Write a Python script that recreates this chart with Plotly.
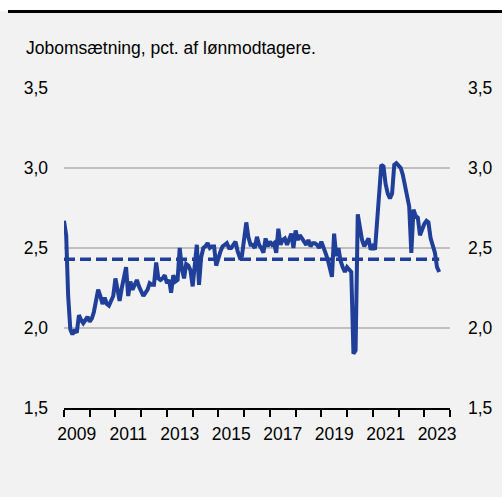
import pandas as pd
import plotly.graph_objects as go

# monthly job turnover, pct. of employees, Jan 2009 - Aug 2023
start_month = '2009-01-01'
jobomsaetning = [
    2.67, 2.58, 2.20, 1.99, 1.96, 1.99, 1.97, 2.08, 2.05, 2.03, 2.05, 2.07,
    2.04, 2.06, 2.10, 2.17, 2.24, 2.20, 2.15, 2.19, 2.15, 2.14, 2.18, 2.20,
    2.31, 2.22, 2.17, 2.25, 2.33, 2.38, 2.20, 2.29, 2.24, 2.27, 2.30, 2.26,
    2.23, 2.20, 2.22, 2.24, 2.28, 2.27, 2.27, 2.41, 2.31, 2.30, 2.31, 2.33,
    2.28, 2.30, 2.22, 2.33, 2.29, 2.30, 2.50, 2.37, 2.31, 2.40, 2.39, 2.36,
    2.26, 2.43, 2.52, 2.27, 2.44, 2.50, 2.51, 2.53, 2.50, 2.51, 2.51, 2.39,
    2.44, 2.48, 2.51, 2.52, 2.53, 2.50, 2.50, 2.52, 2.54, 2.48, 2.44, 2.45,
    2.54, 2.66, 2.57, 2.52, 2.52, 2.50, 2.57, 2.52, 2.50, 2.47, 2.56, 2.51,
    2.54, 2.52, 2.53, 2.47, 2.62, 2.52, 2.55, 2.56, 2.52, 2.56, 2.59, 2.50,
    2.61, 2.55, 2.58, 2.56, 2.54, 2.52, 2.55, 2.51, 2.53, 2.53, 2.52, 2.50,
    2.54, 2.51, 2.47, 2.43, 2.37, 2.32, 2.59, 2.45, 2.50, 2.42, 2.38, 2.35,
    2.38, 2.36, 2.35, 1.84, 1.86, 2.71, 2.62, 2.55, 2.51, 2.53, 2.56, 2.49,
    2.51, 2.49, 2.67, 2.80, 3.02, 3.01, 2.90, 2.84, 2.81, 2.84, 3.02, 3.03,
    3.01, 3.00, 2.96, 2.89, 2.83, 2.76, 2.47, 2.74, 2.70, 2.69, 2.58, 2.62,
    2.65, 2.67, 2.66, 2.56, 2.52, 2.47, 2.38, 2.35,
]
gennemsnit = 2.43
y_ticks = [1.5, 2.0, 2.5, 3.0, 3.5]
label_years = [2009, 2011, 2013, 2015, 2017, 2019, 2021, 2023]

dates = pd.date_range(start_month, periods=len(jobomsaetning), freq='MS')

blue = '#1f3f99'
font = dict(family='Liberation Sans, Arial', size=17.5, color='#000000')

fig = go.Figure()
fig.add_trace(go.Scatter(x=dates, y=[gennemsnit] * len(dates), mode='lines',
                         line=dict(color=blue, width=3.5, dash='11px,5px'),
                         hoverinfo='skip'))
fig.add_trace(go.Scatter(x=dates, y=jobomsaetning, mode='lines',
                         line=dict(color=blue, width=4)))
# invisible trace to carry the right-hand axis
fig.add_trace(go.Scatter(x=[dates[0]], y=[y_ticks[0]], yaxis='y2',
                         mode='markers', marker=dict(opacity=0), hoverinfo='skip'))

year_ticks = pd.date_range('2009-01-01', '2024-01-01', freq='YS')

fig.update_layout(
    width=502, height=497,
    margin=dict(l=64, r=52, t=88, b=89),
    paper_bgcolor='#f2f2f2', plot_bgcolor='#f2f2f2',
    showlegend=False,
    separators=',.',
    font=font,
    xaxis=dict(
        range=['2009-01-01', '2024-01-01'],
        tickvals=[pd.Timestamp(f'{y}-07-02') for y in label_years],
        ticktext=[str(y) for y in label_years],
        ticks='', showgrid=False, zeroline=False,
        showline=True, linecolor='#000000', linewidth=1.5,
        minor=dict(tickvals=list(year_ticks), ticks='outside', ticklen=7,
                   tickwidth=1.5, tickcolor='#000000', showgrid=False),
        ticklabelstandoff=9, automargin=False,
        tickfont=font,
    ),
    yaxis=dict(
        range=[1.5, 3.5], tickvals=y_ticks, tickformat='.1f',
        showgrid=True, gridcolor='#bfbfbf', gridwidth=1.5,
        zeroline=False, ticks='', ticklabelstandoff=15, tickfont=font,
        automargin=False,
    ),
    yaxis2=dict(
        range=[1.5, 3.5], tickvals=y_ticks, tickformat='.1f',
        overlaying='y', side='right', showgrid=False, zeroline=False,
        ticks='', ticklabelstandoff=17, tickfont=font, automargin=False,
    ),
)

# darker line at 2,0
fig.add_shape(type='line', xref='paper', yref='y', x0=0, x1=1, y0=2.0, y1=2.0,
              line=dict(color='#8c9595', width=1.5), layer='below')
# white band with black rule at the top
fig.add_shape(type='rect', xref='paper', yref='paper', x0=-0.2, x1=1.2,
              y0=(408 - 11) / 320, y1=(408 + 10) / 320,
              fillcolor='#ffffff', line=dict(width=0), layer='below')
fig.add_shape(type='line', xref='paper', yref='paper',
              x0=(8 - 64) / 386, x1=(502 - 64) / 386,
              y0=(408 - 11.5) / 320, y1=(408 - 11.5) / 320,
              line=dict(color='#000000', width=3))

fig.add_annotation(text='Jobomsætning, pct. af lønmodtagere.', xref='paper', yref='paper',
                   x=(24 - 64) / 386, y=(408 - 48) / 320, xanchor='left', yanchor='middle',
                   showarrow=False, font=font)

# drop the browser's default page margin so the figure sits at the window corner
fig.write_html("out.html", config={'displayModeBar': False},
               post_script="document.body.style.margin='0';")
